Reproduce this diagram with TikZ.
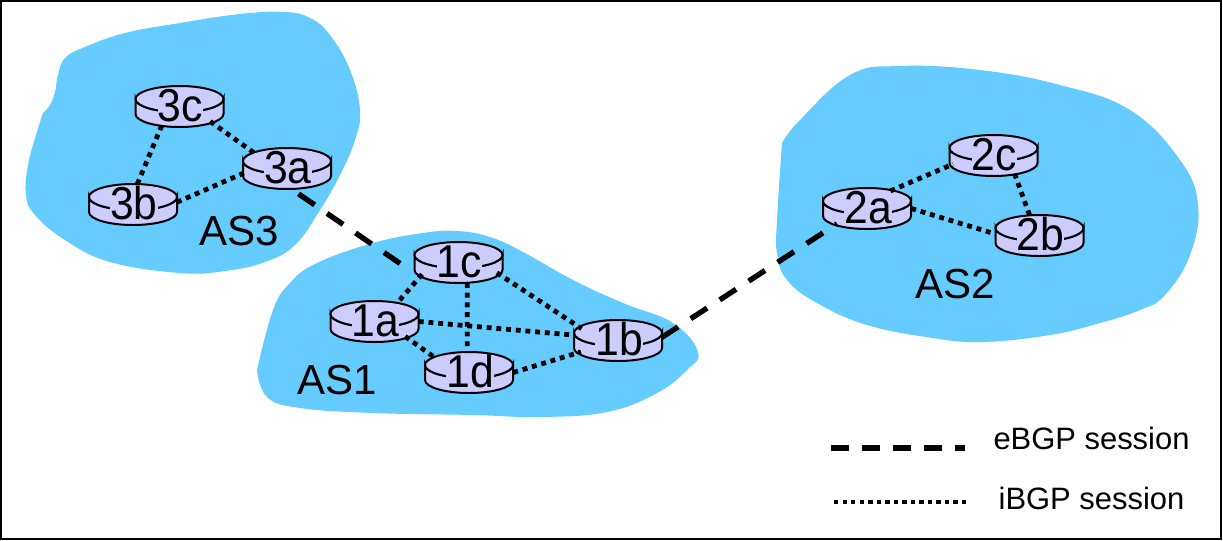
\documentclass[tikz,border=0pt]{standalone}
\usepackage{fontspec}
\usepackage{graphicx}
\setmainfont{Liberation Sans}
\usetikzlibrary{shapes.geometric}
\definecolor{asblue}{HTML}{66CCFF}
\definecolor{routerfill}{HTML}{CCCCFF}
\tikzset{
  blob/.style={fill=asblue,draw=none},
  routerbody/.style={fill=routerfill,draw=black,line width=1.5pt},
  routerport/.style={shape=ellipse,draw=none,minimum width=66pt,minimum height=30.75pt,inner sep=0pt},
  routerlabel/.style={fill=routerfill,inner sep=0pt,font=\fontsize{32}{32}\selectfont},
  aslabel/.style={font=\fontsize{31.5}{32}\selectfont},
  legendlabel/.style={font=\fontsize{23.2}{24}\selectfont},
  ebgp/.style={line width=4pt,dash pattern=on 14.6pt off 11.3pt},
  ibgp/.style={line width=3.6pt,dash pattern=on 3.7pt off 3.6pt},
  legebgp/.style={line width=4pt,dash pattern=on 13.3pt off 10pt},
  legibgp/.style={line width=3.4pt,dash pattern=on 3.3pt off 3.1pt},
}
\newcommand{\routerat}[4]{%
  \path[routerbody] (#2-44,#3) -- (#2-44,#3+15) arc[start angle=180,end angle=360,x radius=33pt,y radius=9.75pt] -- (#2+44,#3) arc[start angle=0,end angle=-180,x radius=33pt,y radius=9.75pt] -- cycle;
  \path[routerbody] (#2,#3) ellipse[x radius=33pt,y radius=9.75pt];
  \node[routerport] (#1) at (#2,#3+7.5) {};
  \node[routerlabel] (#1t) at (#2+1,#3+6.5) {\scalebox{1}[1.08]{#4}};
}
\begin{document}
\begin{tikzpicture}[x=.75pt,y=-.75pt]
\useasboundingbox (0,0) rectangle (1223,540);
\draw[black,line width=1.3pt,fill=white] (1,1) rectangle (1221,539);
\fill[blob] plot[smooth,tension=.7] coordinates {(43,113)(50,105)(55,92)(58,75)(65,58)(85,47)(125,33)(180,23)(240,14)(285,12)(310,18)(330,35)(350,70)(360,110)(355,140)(340,175)(320,210)(295,245)(265,262)(225,271)(180,273)(110,262)(65,240)(35,215)(26,195)(28,165)(36,135)(43,113)};
\fill[blob] plot[smooth,tension=.7] coordinates {(257,370)(273,310)(290,283)(317,263)(373,243)(423,233)(457,231)(490,237)(523,252)(573,280)(623,303)(673,323)(698,352)(687,370)(657,393)(607,412)(540,417)(473,415)(373,413)(300,408)(267,397)(257,370)};
\fill[blob] plot[smooth,tension=.7] coordinates {(782,143)(800,120)(850,75)(900,66)(980,70)(1060,85)(1130,110)(1180,160)(1198,205)(1190,255)(1165,295)(1140,310)(1100,323)(1050,335)(983,342)(933,338)(867,325)(817,303)(787,280)(777,253)(777,220)(782,143)};
\routerat{r3c}{179.5}{99}{3c}
\routerat{r3a}{287}{161}{3a}
\routerat{r3b}{133}{197}{3b}
\routerat{r1c}{458.5}{255}{1c}
\routerat{r1a}{374.5}{314}{1a}
\routerat{r1b}{618}{333}{1b}
\routerat{r1d}{469}{365}{1d}
\routerat{r2a}{867}{201}{2a}
\routerat{r2c}{993.5}{148}{2c}
\routerat{r2b}{1039.5}{228}{2b}
\node[aslabel] (as3) at (239.5,231.5) {AS3};
\node[aslabel] (as1) at (337.5,380) {AS1};
\node[aslabel] (as2) at (955,284) {AS2};
\draw[ibgp] (r3c.-133) -- (r3b.78);
\draw[ibgp] (r3c.-26) -- (r3a.155);
\draw[ibgp] (r3b.3) -- (r3a.186);
\draw[ibgp] (r1c.-162) -- (r1a.39);
\draw[ibgp] (r1c.-67) -- (r1d.95);
\draw[ibgp] (r1c.-15) -- (r1b.162);
\draw[ibgp] (r1a.0) -- (r1b.173);
\draw[ibgp] (r1a.-26) -- (r1d.157);
\draw[ibgp] (r1d.0) -- (r1b.197);
\draw[ibgp] (r2a.37) -- (r2c.192);
\draw[ibgp] (r2a.0) -- (r2b.178);
\draw[ibgp] (r2c.-41) -- (r2b.116);
\draw[ebgp,shorten >=8pt] ([yshift=-4pt]r3a.-60) -- ([yshift=-4pt]r1c.190);
\draw[ebgp] (r1b.4) -- (r2a.-153);
\coordinate (le1) at (831,448);
\coordinate (le2) at (965,448);
\coordinate (li1) at (834,502);
\coordinate (li2) at (968,502);
\draw[legebgp] (le1) -- (le2);
\draw[legibgp] (li1) -- (li2);
\node[legendlabel] (le) at (1091.5,438) {eBGP session};
\node[legendlabel] (li) at (1091.5,498) {iBGP session};
\end{tikzpicture}
\end{document}
